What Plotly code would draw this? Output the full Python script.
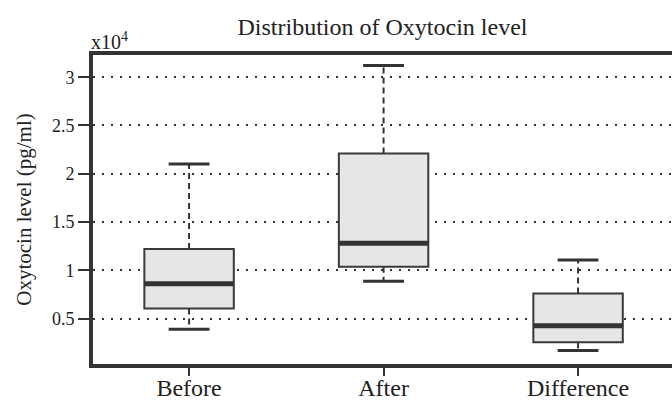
import plotly.graph_objects as go

categories = ["Before", "After", "Difference"]
lower_whisker = [3900, 8870, 1710]
q1_values = [6050, 10370, 2540]
median_values = [8600, 12800, 4270]
q3_values = [12200, 22100, 7590]
upper_whisker = [21000, 31200, 11070]

y_tick_values = [5000, 10000, 15000, 20000, 25000, 30000]
y_tick_labels = ["0.5", "1", "1.5", "2", "2.5", "3"]

BOX_W = 0.46
CAP_HALF = 0.105
DARK = "#333333"
FONT = "Liberation Serif"

fig = go.Figure()
positions = list(range(len(categories)))

for i, cat in enumerate(categories):
    fig.add_trace(go.Box(
        x=[positions[i]], q1=[q1_values[i]], median=[median_values[i]], q3=[q3_values[i]],
        lowerfence=[q1_values[i]], upperfence=[q3_values[i]],
        width=BOX_W, whiskerwidth=0, fillcolor="#e5e6e8",
        line=dict(color="#3a3a3a", width=2), boxpoints=False,
        hoverinfo="skip", showlegend=False, name=cat,
    ))
    # dashed whiskers
    fig.add_trace(go.Scatter(
        x=[positions[i], positions[i], None, positions[i], positions[i]],
        y=[q3_values[i], upper_whisker[i], None, q1_values[i], lower_whisker[i]],
        mode="lines", line=dict(color=DARK, width=2, dash="6px,4px"),
        hoverinfo="skip", showlegend=False,
    ))
    # caps
    fig.add_trace(go.Scatter(
        x=[positions[i] - CAP_HALF, positions[i] + CAP_HALF, None,
           positions[i] - CAP_HALF, positions[i] + CAP_HALF],
        y=[upper_whisker[i], upper_whisker[i], None, lower_whisker[i], lower_whisker[i]],
        mode="lines", line=dict(color=DARK, width=3),
        hoverinfo="skip", showlegend=False,
    ))
    # thick median
    fig.add_trace(go.Scatter(
        x=[positions[i] - BOX_W / 2, positions[i] + BOX_W / 2],
        y=[median_values[i], median_values[i]],
        mode="lines", line=dict(color=DARK, width=5),
        hoverinfo="skip", showlegend=False,
    ))

fig.update_layout(
    width=672, height=400,
    margin=dict(l=93, r=0, t=55, b=36),
    paper_bgcolor="white", plot_bgcolor="white",
    font=dict(family=FONT, color="#222222"),
    title=dict(text="Distribution of Oxytocin level", x=0.5, xref="paper",
               y=1 - 27 / 400, yref="container", yanchor="middle", xanchor="center",
               font=dict(size=24, family=FONT, color="#222222")),
    xaxis=dict(
        range=[-0.494, 2.483], tickmode="array", tickvals=positions, ticktext=categories,
        showgrid=False, zeroline=False, showline=True, linewidth=4, linecolor=DARK,
        mirror=True, ticks="outside", ticklen=8, tickwidth=2, tickcolor=DARK,
        tickfont=dict(size=24, family=FONT, color="#222222"), automargin=False,
        ticklabelstandoff=-9,
    ),
    yaxis=dict(
        range=[300, 32300], tickmode="array", tickvals=y_tick_values, ticktext=y_tick_labels,
        showgrid=True, gridcolor=DARK, gridwidth=2, griddash="2px,7px",
        zeroline=False, showline=True, linewidth=4, linecolor=DARK, mirror=False,
        ticks="outside", ticklen=11, tickwidth=2, tickcolor=DARK,
        tickfont=dict(size=18, family=FONT, color="#222222"), automargin=False,
        title=dict(text="Oxytocin level (pg/ml)", font=dict(size=21, family=FONT, color="#222222"),
                   standoff=16),
    ),
    annotations=[dict(text="x10<sup>4</sup>", xref="paper", yref="paper", x=0, y=1,
                      xanchor="left", yanchor="bottom", xshift=-4, yshift=0, showarrow=False,
                      font=dict(size=20, family=FONT, color="#222222"))],
)

fig.write_html("out.html", config={"displayModeBar": False},
               post_script="document.body.style.margin='0';document.body.style.overflow='hidden';")
